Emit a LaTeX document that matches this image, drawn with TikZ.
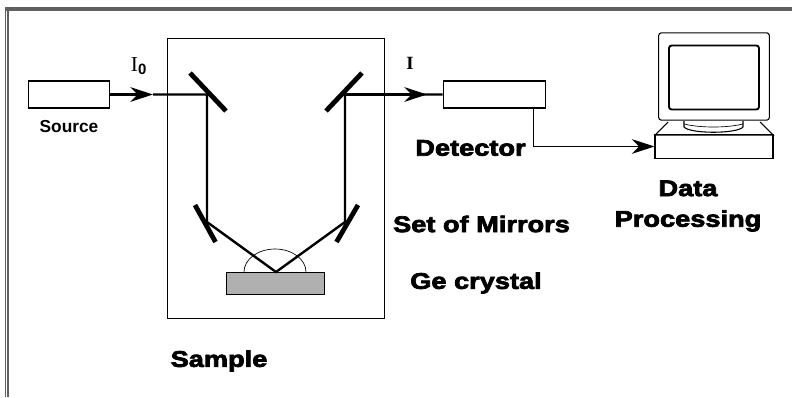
\documentclass[tikz,border=0pt]{standalone}
\usepackage{fontspec}
\setmainfont{Liberation Sans}
\newfontfamily\heavyfont[FakeBold=3.2,FakeStretch=1.2]{Liberation Sans Bold}
\newfontfamily\labelfont{Liberation Serif}
\usepackage{xcolor}
\usepackage{tikz}
\usetikzlibrary{arrows.meta, positioning}

\begin{document}
\begin{tikzpicture}[
    x=0.75pt, y=-0.75pt,
    unitbox/.style={rectangle, draw, line width=0.8pt, inner sep=0pt, minimum height=20.25pt},
    beam/.style={line width=1.8pt},
    beamtip/.style={line width=1.8pt, -{Stealth[length=17pt, width=11pt, inset=5.5pt]}},
    mirror/.style={line width=3.6pt},
    heavy/.style={font=\heavyfont\fontsize{17}{23}\selectfont, align=center, inner sep=0pt},
]
    \useasboundingbox (0,0) rectangle (792,397);

    % Outer frame
    \draw[gray!75!black, line width=2.4pt] (5,9) -- (792,9);
    \draw[gray!75!black, line width=0.8pt] (5.5,8) -- (5.5,397);
    \draw[gray!75!black, line width=0.8pt] (8,9) -- (8,397);

    % Sample chamber
    \node[rectangle, draw, line width=0.6pt, inner sep=0pt, minimum width=162.75pt, minimum height=210pt] (sample) at (275.5,178) {};
    \node[rectangle, draw, line width=0.9pt, fill=black!31, inner sep=0pt, minimum width=74pt, minimum height=17pt] (crystal) at (275.5,283.5) {};
    \coordinate (hit) at (276,272);
    \draw[line width=0.5pt] (244,272) arc[start angle=180, end angle=360, x radius=31, y radius=23];

    % Source and detector
    \node[unitbox, minimum width=60.5pt] (source) at (69,94.5) {};
    \node[unitbox, minimum width=77pt] (detector) at (494.5,94.5) {};

    % Mirrors
    \coordinate (m1) at (207,94.5);
    \coordinate (m2) at (207,222);
    \coordinate (m3) at (345,222);
    \coordinate (m4) at (345,94.5);
    \draw[mirror] (190,73) -- (226,111);
    \draw[mirror] (362,73) -- (326,111);
    \draw[mirror] (195,205) -- (215.5,242);
    \draw[mirror] (358,205) -- (336.5,242);

    % Beam path
    \coordinate (tipA) at (153,94.5);
    \coordinate (tipB) at (427,94.5);
    \draw[beamtip] (source.east) -- (tipA);
    \draw[beam] (tipA) -- (m1) -- (m2) -- (hit) -- (m3) -- (m4) -- (detector.west);
    \draw[beamtip] (m4) -- (tipB);

    % Computer
    \node[rectangle, draw, rounded corners=2pt, line width=0.8pt, inner sep=0pt, minimum width=83pt, minimum height=65.5pt] (monitor) at (714,76.5) {};
    \node[rectangle, draw, rounded corners=2pt, line width=1.4pt, inner sep=0pt, minimum width=67.5pt, minimum height=48pt] (screen) at (714,77.5) {};
    \draw[line width=0.8pt] (668,122) -- (655,135) -- (773,135) -- (760,122);
    \draw[line width=0.8pt] (684,121) -- (684,127) .. controls (690,134) and (737,134) .. (743,127) -- (743,121);
    \draw[line width=0.5pt] (684,124) .. controls (700,128) and (727,128) .. (743,124);
    \node[rectangle, draw, line width=0.8pt, inner sep=0pt, minimum width=88.5pt, minimum height=17.5pt] (base) at (714,146.5) {};

    % Detector to computer
    \draw[line width=0.8pt, -{Stealth[length=17pt, width=11pt, inset=5.5pt]}] ([xshift=-9.75pt]detector.south east) |- (base.west);

    % Labels
    \node[font=\fontsize{13}{15}\selectfont\bfseries, inner sep=0pt] (sourcelabel) at (69,127) {Source};
    \node[font=\labelfont\fontsize{16}{16}\selectfont, inner sep=0pt] (i0label) at (139,66) {I$_{\mathbf{0}}$};
    \node[font=\labelfont\fontsize{14}{16}\selectfont\bfseries, inner sep=0pt] (ilabel) at (410,63) {I};
    \node[heavy] (detectorlabel) at (470.5,148) {Detector};
    \node[heavy] (datalabel) at (688,206) {Data\\Processing};
    \node[heavy] (mirrorlabel) at (481.5,224) {Set of Mirrors};
    \node[heavy] (crystallabel) at (476,283) {Ge crystal};
    \node[heavy] (samplelabel) at (219,361) {Sample};
\end{tikzpicture}
\end{document}
